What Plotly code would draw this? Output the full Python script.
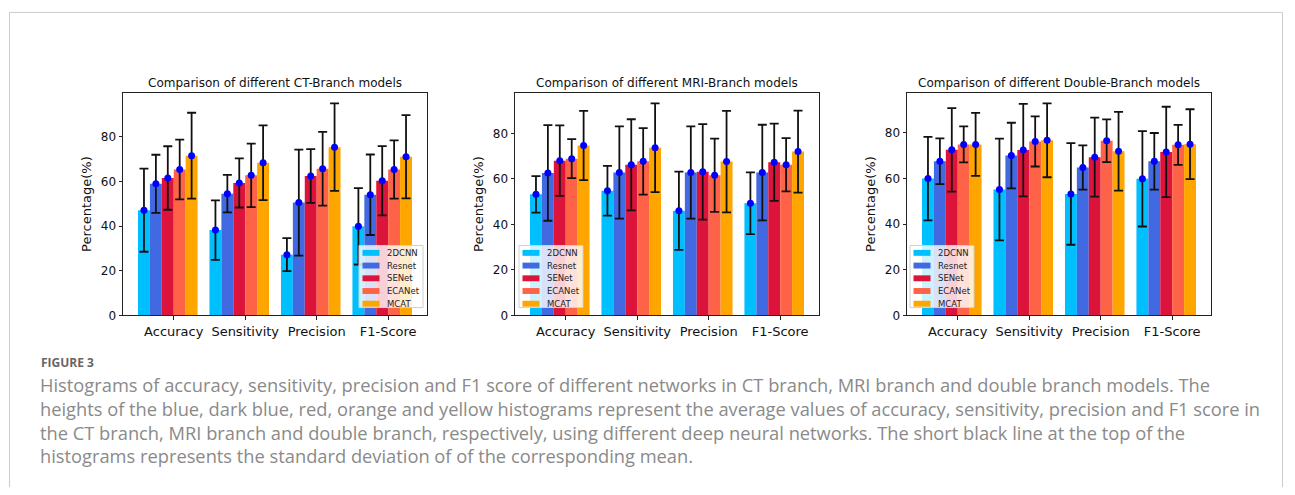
import plotly.graph_objects as go

# ---------------- data ----------------
models = ["2DCNN", "Resnet", "SENet", "ECANet", "MCAT"]
metrics = ["Accuracy", "Sensitivity", "Precision", "F1-Score"]
colors = ["#00BFFF", "#4169E1", "#DC143C", "#FF6347", "#FFA500"]

titles = ["Comparison of different CT-Branch models",
          "Comparison of different MRI-Branch models",
          "Comparison of different Double-Branch models"]

# rows = models, cols = metrics
ct_mean = [[47.1, 38.2, 27.2, 39.9],
           [58.9, 54.5, 50.5, 54.0],
           [61.5, 59.3, 62.4, 60.3],
           [65.3, 62.7, 65.6, 65.3],
           [71.5, 68.3, 75.3, 71.0]]
ct_std = [[18.6, 13.3, 7.4, 17.1],
          [13.0, 8.4, 23.7, 18.0],
          [14.2, 11.0, 12.0, 15.5],
          [13.4, 14.2, 16.5, 13.0],
          [19.2, 16.7, 19.6, 18.6]]

mri_mean = [[53.2, 54.8, 46.0, 49.3],
            [62.6, 62.8, 62.8, 62.8],
            [68.0, 66.2, 63.1, 67.3],
            [68.9, 67.7, 61.6, 66.2],
            [74.7, 73.7, 67.6, 72.0]]
mri_std = [[8.0, 10.9, 17.2, 13.6],
           [21.0, 20.3, 20.3, 21.0],
           [15.5, 20.0, 21.0, 17.0],
           [8.6, 14.6, 16.1, 11.7],
           [15.2, 19.5, 22.3, 18.0]]

dbl_mean = [[60.0, 55.2, 53.3, 59.9],
            [67.6, 70.1, 64.9, 67.6],
            [72.6, 72.5, 69.4, 71.7],
            [75.0, 76.3, 76.6, 74.8],
            [75.0, 76.8, 72.0, 75.1]]
dbl_std = [[18.3, 22.3, 22.3, 20.9],
           [10.0, 14.4, 9.7, 12.4],
           [18.3, 20.3, 17.3, 19.8],
           [7.9, 11.0, 9.4, 8.8],
           [13.8, 16.2, 17.3, 15.3]]

yticks = [0, 20, 40, 60, 80]

caption_head = "FIGURE 3"
caption_lines = [
    "Histograms of accuracy, sensitivity, precision and F1 score of different networks in CT branch, MRI branch and double branch models. The",
    "heights of the blue, dark blue, red, orange and yellow histograms represent the average values of accuracy, sensitivity, precision and F1 score in",
    "the CT branch, MRI branch and double branch, respectively, using different deep neural networks. The short black line at the top of the",
    "histograms represents the standard deviation of of the corresponding mean.",
]

# ---------------- layout constants (page pixel coords) ----------------
PAGE_OFF = 8                     # default body margin of the html page
W, H = 1295 - 2 * PAGE_OFF, 495 - 2 * PAGE_OFF
BW = 1.0 / 6.0                   # bar width in group units
plot_px = [(123, 427), (515, 819), (907, 1211)]
top_px, bot_px = 94, 320
legend_box = [(359, 249), (519, 249), (910, 249)]   # top-left of legend boxes
FONT = "DejaVu Sans"


def fx(px):
    return (px - PAGE_OFF) / W


def fy(py):
    return 1 - (py - PAGE_OFF) / H


fig = go.Figure()
panels = [(ct_mean, ct_std), (mri_mean, mri_std), (dbl_mean, dbl_std)]
groups = list(range(len(metrics)))

for p, (means, stds) in enumerate(panels):
    sfx = "" if p == 0 else str(p + 1)
    xa, ya = "x" + sfx, "y" + sfx
    for i, m in enumerate(models):
        xs = [g + (i - 2) * BW for g in groups]
        fig.add_trace(go.Bar(
            x=xs, y=means[i], width=BW, name=m,
            marker=dict(color=colors[i], line=dict(width=0)),
            xaxis=xa, yaxis=ya, showlegend=False,
        ))
    for i, m in enumerate(models):
        xs = [g + (i - 2) * BW for g in groups]
        fig.add_trace(go.Scatter(
            x=xs, y=means[i], mode="markers", name=m,
            marker=dict(color="#0000FF", size=7),
            error_y=dict(type="data", array=stds[i], visible=True,
                         color="#111111", thickness=1.8, width=4.5),
            xaxis=xa, yaxis=ya, showlegend=False, hoverinfo="skip",
        ))

    ymax = max(mm + ss for rm, rs in zip(means, stds) for mm, ss in zip(rm, rs)) * 1.05
    x0, x1 = plot_px[p]
    axis_common = dict(showline=True, linecolor="#222", linewidth=1, mirror=True,
                       ticks="outside", ticklen=3.5, tickwidth=0.8, tickcolor="#222",
                       showgrid=False, zeroline=False)
    fig.layout["xaxis" + sfx] = dict(
        domain=[fx(x0), fx(x1)], anchor=ya,
        range=[-2.5 * BW - 0.21, 3 + 2.5 * BW + 0.21],
        tickvals=[g + 0.5 * BW for g in groups], ticktext=metrics,
        tickfont=dict(family=FONT, size=13, color="#111"),
        **axis_common,
    )
    fig.layout["yaxis" + sfx] = dict(
        domain=[fy(bot_px), fy(top_px)], anchor=xa,
        range=[0, ymax], tickvals=yticks,
        tickfont=dict(family=FONT, size=12, color="#111"),
        title=dict(text="Percentage(%)", font=dict(family=FONT, size=13, color="#111"), standoff=6),
        **axis_common,
    )
    fig.add_annotation(
        x=fx((x0 + x1) / 2), y=fy(93), xref="paper", yref="paper",
        text=titles[p], showarrow=False, xanchor="center", yanchor="bottom",
        font=dict(family=FONT, size=12, color="#111"),
    )

    # legend (matplotlib style box)
    bx, by = legend_box[p]
    fig.add_shape(type="rect", xref="paper", yref="paper",
                  x0=fx(bx), x1=fx(bx + 64), y0=fy(by + 63), y1=fy(by),
                  line=dict(color="#d0d0d0", width=1),
                  fillcolor="rgba(255,255,255,0.8)", layer="above")
    for i, m in enumerate(models):
        cy = by + 7.5 + 12.9 * i
        fig.add_shape(type="rect", xref="paper", yref="paper",
                      x0=fx(bx + 3.5), x1=fx(bx + 20.5), y0=fy(cy + 3), y1=fy(cy - 3),
                      line=dict(width=0), fillcolor=colors[i], layer="above")
        fig.add_annotation(x=fx(bx + 26.5), y=fy(cy), xref="paper", yref="paper",
                           text=m, showarrow=False, xanchor="left", yanchor="middle",
                           borderpad=0,
                           font=dict(family=FONT, size=8.5, color="#222"))

# caption
fig.add_annotation(x=fx(39), y=fy(368), xref="paper", yref="paper",
                   text="<b>" + caption_head + "</b>", showarrow=False,
                   xanchor="left", yanchor="middle",
                   font=dict(family="Open Sans", size=12, color="#666"))
fig.add_annotation(x=fx(39), y=fy(426), xref="paper", yref="paper",
                   text="<br>".join(caption_lines), showarrow=False,
                   xanchor="left", yanchor="middle", align="left", borderpad=0,
                   font=dict(family="Open Sans", size=18.3, color="#8a8a8a"))

# card border
fig.add_shape(type="rect", xref="paper", yref="paper",
              x0=fx(9.5), x1=fx(1282.5), y0=-0.1, y1=fy(12.5),
              line=dict(color="#cccccc", width=1), fillcolor="rgba(0,0,0,0)")

fig.update_layout(
    width=W, height=H, autosize=False,
    margin=dict(l=0, r=0, t=0, b=0),
    paper_bgcolor="white", plot_bgcolor="white",
    barmode="overlay", showlegend=False,
)

fig.write_html("out.html")
